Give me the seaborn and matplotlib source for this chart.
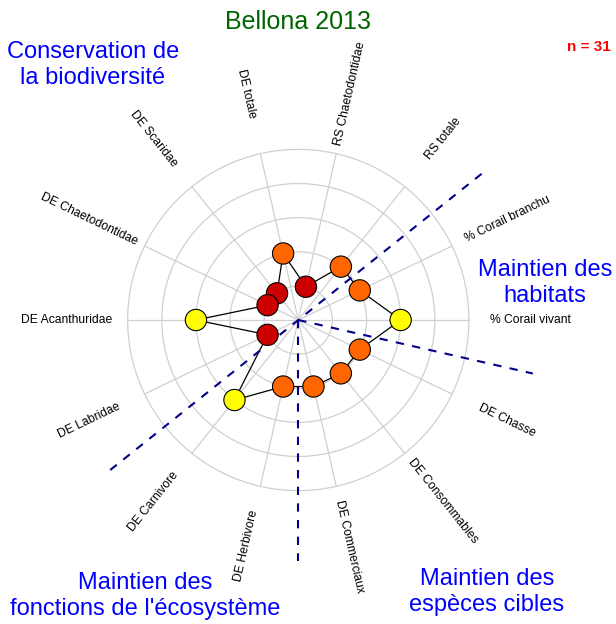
import numpy as np
import pandas as pd
import matplotlib
matplotlib.use("Agg")
import matplotlib.pyplot as plt
import seaborn as sns

# ---- data ----
labels = ["% Corail vivant", "% Corail branchu", "RS totale", "RS Chaetodontidae",
          "DE totale", "DE Scaridae", "DE Chaetodontidae", "DE Acanthuridae",
          "DE Labridae", "DE Carnivore", "DE Herbivore", "DE Commerciaux",
          "DE Consommables", "DE Chasse"]
values = [3, 2, 2, 1, 2, 1, 1, 3, 1, 3, 2, 2, 2, 2]
max_value = 5
title = "Bellona 2013"
n_text = "n = 31"
groups = ["Conservation de\nla biodiversité", "Maintien des\nhabitats",
          "Maintien des\nfonctions de l'écosystème", "Maintien des\nespèces cibles"]
level_colors = {1: "#CC0000", 2: "#FF6600", 3: "#FFFF00"}

sns.set_theme(style="white")
plt.rcParams["font.family"] = ["Liberation Sans", "DejaVu Sans"]

W, H, DPI = 616, 624, 100
fig = plt.figure(figsize=(W / DPI, H / DPI), dpi=DPI)
ax = fig.add_axes([0, 0, 1, 1])
cx, cy, R = 298.3, 320.0, 170.6
ax.set_xlim(-cx / R, (W - cx) / R)
ax.set_ylim(-(H - cy) / R, cy / R)
ax.axis("off")

n = len(labels)
angles = np.arange(n) * 2 * np.pi / n

# grid
t = np.linspace(0, 2 * np.pi, 400)
for k in range(1, max_value + 1):
    r = k / max_value
    ax.plot(r * np.cos(t), r * np.sin(t), color="#D0D0D0", lw=0.9, zorder=1)
for a in angles:
    ax.plot([0, np.cos(a)], [0, np.sin(a)], color="#D0D0D0", lw=0.9, zorder=1)

# data
df = pd.DataFrame({"label": labels, "value": values, "angle": angles})
df["r"] = df["value"] / max_value
df["x"] = df["r"] * np.cos(df["angle"])
df["y"] = df["r"] * np.sin(df["angle"])
closed = pd.concat([df, df.iloc[[0]]], ignore_index=True)
sns.lineplot(data=closed, x="x", y="y", sort=False, estimator=None, color="black",
             lw=0.9, ax=ax, zorder=2)

# dashed separators
L = 1.41
sep1 = np.deg2rad(180 / n * 3)           # between branchu and RS totale
sep2 = np.deg2rad(-180 / n)              # between Corail vivant and Chasse
sep3 = np.deg2rad(270)
dash_kw = dict(color="#00008B", lw=1.5, ls=(0, (4, 4)), zorder=3)
ax.plot([-L * np.cos(sep1), L * np.cos(sep1)], [-L * np.sin(sep1), L * np.sin(sep1)], **dash_kw)
ax.plot([0, L * np.cos(sep2)], [0, L * np.sin(sep2)], **dash_kw)
ax.plot([0, L * np.cos(sep3)], [0, L * np.sin(sep3)], **dash_kw)

sns.scatterplot(data=df, x="x", y="y", hue="value", palette=level_colors, s=235,
                edgecolor="black", linewidth=0.8, legend=False, ax=ax, zorder=4)

# axis labels
LR = 1.36
for lab, a in zip(labels, angles):
    deg = np.rad2deg(a)
    rot = deg - 180 if 90 < deg < 270 else deg
    ax.text(LR * np.cos(a), LR * np.sin(a), lab, rotation=rot, rotation_mode="anchor",
            ha="center", va="center", fontsize=8.7, color="black")

def px(x, y):
    return (x - cx) / R, (cy - y) / R

ax.text(*px(298, 22), title, ha="center", va="center", fontsize=18, color="#006400")
ax.text(*px(589, 47), n_text, ha="center", va="center", fontsize=11, color="#FF0000",
        fontweight="bold")
gpos = [(93, 65), (545, 283), (145, 596), (487, 592)]
for g, (gx, gy) in zip(groups, gpos):
    ax.text(*px(gx, gy), g, ha="center", va="center", fontsize=17, color="#0000FF",
            linespacing=1.2)

fig.savefig("out.png", dpi=DPI)
